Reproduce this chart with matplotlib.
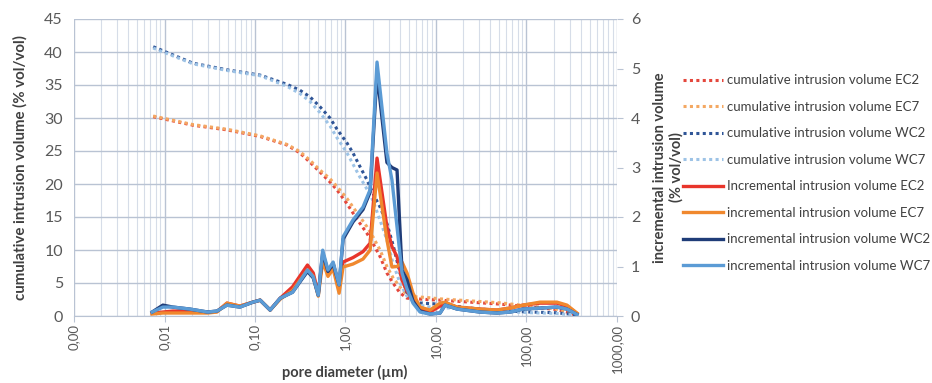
import matplotlib
matplotlib.use("Agg")
import matplotlib.pyplot as plt
from matplotlib.ticker import FixedLocator, LogLocator, NullFormatter, FixedFormatter
from matplotlib.lines import Line2D

plt.rcParams['font.family'] = ['Lato', 'DejaVu Sans']

# ---------------- data ----------------
# pore diameters (µm) for the incremental curves
diam_inc = [0.0073, 0.0096, 0.0124, 0.019, 0.030, 0.038, 0.049, 0.068, 0.095, 0.114,
            0.147, 0.19, 0.26, 0.38, 0.44, 0.50, 0.56, 0.64, 0.73, 0.85,
            0.94, 1.21, 1.56, 1.87, 2.23, 2.87, 3.26, 3.71, 4.21, 4.78,
            5.57, 6.66, 8.6, 11.1, 12.6, 17.1, 30.6, 47.2, 65.7, 91.5,
            141, 217, 280, 361]

inc_EC2 = [0.06, 0.08, 0.10, 0.10, 0.08, 0.09, 0.26, 0.20, 0.28, 0.32,
           0.12, 0.36, 0.59, 1.03, 0.87, 0.46, 1.19, 0.87, 1.07, 0.57,
           1.09, 1.18, 1.30, 1.47, 3.19, 1.80, 1.40, 1.20, 0.73, 0.50,
           0.32, 0.12, 0.08, 0.20, 0.26, 0.18, 0.14, 0.12, 0.16, 0.22,
           0.26, 0.26, 0.20, 0.05]
inc_EC7 = [0.04, 0.06, 0.06, 0.06, 0.06, 0.08, 0.26, 0.20, 0.28, 0.32,
           0.12, 0.34, 0.52, 0.93, 0.80, 0.40, 1.10, 0.80, 0.95, 0.46,
           0.99, 1.05, 1.15, 1.33, 2.89, 1.54, 0.99, 1.00, 1.09, 0.87,
           0.46, 0.18, 0.12, 0.26, 0.28, 0.18, 0.14, 0.12, 0.16, 0.22,
           0.28, 0.28, 0.22, 0.06]
inc_WC2 = [0.08, 0.22, 0.18, 0.14, 0.08, 0.10, 0.22, 0.18, 0.28, 0.32,
           0.12, 0.36, 0.48, 0.90, 0.77, 0.42, 1.28, 0.90, 1.05, 0.63,
           1.55, 1.90, 2.15, 2.50, 4.90, 3.10, 3.00, 2.95, 0.93, 0.73,
           0.30, 0.10, 0.04, 0.06, 0.22, 0.14, 0.08, 0.06, 0.08, 0.14,
           0.16, 0.18, 0.14, 0.03]
inc_WC7 = [0.08, 0.18, 0.18, 0.14, 0.08, 0.10, 0.22, 0.18, 0.28, 0.32,
           0.12, 0.36, 0.48, 0.93, 0.79, 0.42, 1.33, 0.93, 1.09, 0.63,
           1.60, 1.94, 2.20, 2.55, 5.13, 3.29, 2.75, 1.80, 0.87, 0.55,
           0.26, 0.08, 0.04, 0.06, 0.22, 0.14, 0.08, 0.06, 0.08, 0.14,
           0.16, 0.18, 0.14, 0.03]

# pore diameters (µm) for the cumulative curves
diam_cum = [0.0075, 0.0207, 0.049, 0.114, 0.226, 0.314, 0.405, 0.523, 0.674, 0.806,
            1.04, 1.21, 1.45, 1.73, 2.01, 2.41, 2.87, 3.35, 4.00, 4.78,
            6.17, 7.95, 11.1, 23.7, 50.9, 109, 206, 302, 361]

cum_EC2 = [30.2, 28.9, 28.2, 27.2, 25.9, 24.7, 23.3, 21.8, 20.3, 19.1,
           17.0, 15.6, 14.0, 12.5, 11.0, 9.0, 6.5, 5.0, 3.5, 2.7,
           2.6, 2.5, 2.4, 2.1, 1.8, 1.4, 1.0, 0.5, 0.0]
cum_EC7 = [30.3, 29.0, 28.3, 27.3, 26.0, 24.9, 23.6, 22.1, 20.8, 19.6,
           17.8, 16.5, 15.0, 13.5, 12.0, 10.0, 7.5, 5.8, 4.4, 3.2,
           2.9, 2.8, 2.6, 2.3, 2.0, 1.5, 1.1, 0.5, 0.0]
cum_WC2 = [40.8, 38.3, 37.3, 36.5, 35.1, 34.2, 33.2, 31.7, 30.0, 28.3,
           26.2, 24.7, 22.6, 20.6, 18.6, 16.5, 14.0, 10.8, 6.5, 3.5,
           2.0, 1.9, 1.8, 1.2, 0.8, 0.6, 0.5, 0.3, 0.0]
cum_WC7 = [40.6, 38.2, 37.2, 36.4, 34.8, 33.7, 32.5, 30.8, 28.8, 27.0,
           24.7, 23.0, 21.0, 19.2, 17.5, 14.5, 11.5, 8.0, 5.0, 3.0,
           1.8, 1.4, 1.3, 1.0, 0.7, 0.5, 0.4, 0.2, 0.0]

x_tick_values = [0.001, 0.01, 0.1, 1, 10, 100, 1000]
x_tick_labels = ["0,00", "0,01", "0,10", "1,00", "10,00", "100,00", "1000,00"]
left_ticks = [0, 5, 10, 15, 20, 25, 30, 35, 40, 45]
right_ticks = [0, 1, 2, 3, 4, 5, 6]

labels = ["cumulative intrusion volume EC2", "cumulative intrusion volume EC7",
          "cumulative intrusion volume WC2", "cumulative intrusion volume WC7",
          "Incremental intrusion volume EC2", "incremental intrusion volume EC7",
          "incremental intrusion volume WC2", "incremental intrusion volume WC7"]

# ---------------- styles ----------------
c_red = "#E8352B"
c_orange = "#F0882E"
c_navy = "#1F3C78"
c_lblue = "#5B9BD5"
c_red_d = "#E4473C"
c_orange_d = "#F4A862"
c_navy_d = "#2F5597"
c_lblue_d = "#9DC3E6"
tick_col = "#595959"
grid_major = "#B9C3D3"
grid_minor = "#D6DDE8"

fig = plt.figure(figsize=(9.32, 3.83), dpi=100)
ax = fig.add_axes([74/932, 1-316/383, (617-74)/932, (316-19)/383])
ax2 = ax.twinx()

ax.set_xscale('log')
ax.set_xlim(1e-3, 1e3)
ax.set_ylim(0, 45)
ax2.set_ylim(0, 6)

dot = (0, (1, 1.1))
lw_d = 2.2
ax.plot(diam_cum, cum_EC2, color=c_red_d, lw=lw_d, ls=dot, zorder=3)
ax.plot(diam_cum, cum_EC7, color=c_orange_d, lw=lw_d, ls=dot, zorder=3)
ax.plot(diam_cum, cum_WC2, color=c_navy_d, lw=lw_d, ls=dot, zorder=3)
ax.plot(diam_cum, cum_WC7, color=c_lblue_d, lw=lw_d, ls=dot, zorder=3)

lw_s = 2.4
ax2.plot(diam_inc, inc_EC2, color=c_red, lw=lw_s, zorder=3)
ax2.plot(diam_inc, inc_EC7, color=c_orange, lw=lw_s, zorder=3)
ax2.plot(diam_inc, inc_WC2, color=c_navy, lw=lw_s, zorder=3)
ax2.plot(diam_inc, inc_WC7, color=c_lblue, lw=lw_s, zorder=3)

# ticks
ax.xaxis.set_major_locator(FixedLocator(x_tick_values))
ax.xaxis.set_major_formatter(FixedFormatter(x_tick_labels))
ax.xaxis.set_minor_locator(LogLocator(base=10, subs=range(2, 10), numticks=100))
ax.xaxis.set_minor_formatter(NullFormatter())
ax.set_yticks(left_ticks)
ax2.set_yticks(right_ticks)

for lab in ax.get_xticklabels():
    lab.set_rotation(90)
ax.tick_params(axis='x', which='major', labelsize=9.5, colors=tick_col, length=4,
               color=grid_major, pad=2)
ax.tick_params(axis='x', which='minor', length=0)
ax.tick_params(axis='y', labelsize=11.5, colors=tick_col, length=0, pad=8)
ax2.tick_params(axis='y', labelsize=11.5, colors=tick_col, length=4, color=grid_major, pad=6)

ax.grid(True, which='major', axis='both', color=grid_major, lw=1.0)
ax.grid(True, which='minor', axis='x', color=grid_minor, lw=0.8)
ax.set_axisbelow(True)

for a in (ax, ax2):
    for s in a.spines.values():
        s.set_visible(False)
ax.spines['bottom'].set_visible(True)
ax.spines['bottom'].set_color(grid_major)

fig.text(345/932, 1-372/383, "pore diameter (µm)", fontsize=10.5, fontweight='bold',
         color="#404040", ha='center', va='center')
ax.set_ylabel("cumulative intrusion volume (% vol/vol)", fontsize=10.8, fontweight='bold',
              color="#404040", labelpad=12)
ax2.set_ylabel("incremental intrusion volume\n(% vol/vol)", fontsize=10.5, fontweight='bold',
               color="#404040", labelpad=9, linespacing=1.2)

handles = [
    Line2D([], [], color=c_red_d, lw=lw_d, ls=dot),
    Line2D([], [], color=c_orange_d, lw=lw_d, ls=dot),
    Line2D([], [], color=c_navy_d, lw=lw_d, ls=dot),
    Line2D([], [], color=c_lblue_d, lw=lw_d, ls=dot),
    Line2D([], [], color=c_red, lw=lw_s),
    Line2D([], [], color=c_orange, lw=lw_s),
    Line2D([], [], color=c_navy, lw=lw_s),
    Line2D([], [], color=c_lblue, lw=lw_s),
]
leg = fig.legend(handles, labels, loc='upper left', bbox_to_anchor=(678/932, 1-69/383),
                 frameon=False, fontsize=9.5, handlelength=3.0, handletextpad=0.35,
                 labelspacing=1.1, borderaxespad=0)
for t in leg.get_texts():
    t.set_color("#404040")

fig.savefig("out.png", dpi=100)
